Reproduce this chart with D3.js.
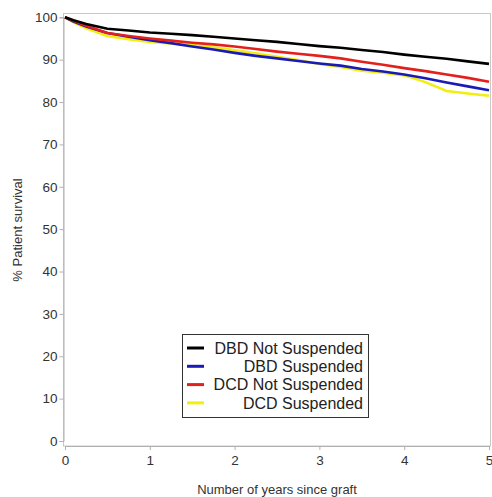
<!DOCTYPE html>
<html>
<head>
<meta charset="utf-8">
<script src="https://cdn.jsdelivr.net/npm/d3@7"></script>
<style>
  body { margin: 0; background: #fff; }
  text { font-family: "Liberation Sans", Arial, sans-serif; }
</style>
</head>
<body>
<script>
// Chart size
const width = 492, height = 497;

// Data (years since graft, % survival)
const years = [0, 0.1, 0.25, 0.5, 0.75, 1, 1.25, 1.5, 1.75, 2, 2.25, 2.5, 2.75, 3, 3.25, 3.5, 3.75, 4, 4.25, 4.5, 4.75, 5];
const dbdNotSusp = [100, 99.3, 98.4, 97.3, 96.9, 96.4, 96.1, 95.8, 95.4, 95.0, 94.6, 94.2, 93.7, 93.2, 92.8, 92.3, 91.8, 91.2, 90.7, 90.2, 89.6, 89.0];
const dbdSusp    = [100, 99.0, 97.8, 96.3, 95.4, 94.6, 93.9, 93.1, 92.4, 91.6, 90.9, 90.3, 89.7, 89.1, 88.6, 87.8, 87.2, 86.5, 85.6, 84.6, 83.7, 82.8];
const dcdNotSusp = [100, 99.2, 98.0, 96.3, 95.6, 95.0, 94.5, 94.0, 93.6, 93.1, 92.5, 91.9, 91.4, 90.9, 90.3, 89.5, 88.8, 88.0, 87.3, 86.5, 85.7, 84.8];
const dcdSusp    = [100, 98.8, 97.4, 95.6, 94.8, 94.2, 93.8, 93.5, 92.9, 92.2, 91.5, 90.7, 89.9, 89.0, 88.3, 87.4, 86.9, 86.3, 84.7, 82.6, 82.0, 81.5];

const seriesNames = ["DBD Not Suspended", "DBD Suspended", "DCD Not Suspended", "DCD Suspended"];
const seriesColors = ["#000000", "#1a1ab8", "#e3201b", "#f2ee10"];
const seriesValues = [dbdNotSusp, dbdSusp, dcdNotSusp, dcdSusp];

const xTicks = [0, 1, 2, 3, 4, 5];
const yTicks = [0, 10, 20, 30, 40, 50, 60, 70, 80, 90, 100];

// Scales
const x = d3.scaleLinear().domain([0, 5]).range([65, 489]);
const y = d3.scaleLinear().domain([0, 100]).range([441, 17.3]);

const svg = d3.select("body")
              .append("svg")
              .attr("width", width)
              .attr("height", height);

// Plot frame
svg.append("rect")
   .attr("x", 63.5).attr("y", 13.5)
   .attr("width", 427).attr("height", 432.5)
   .attr("fill", "none")
   .attr("stroke", "#c8c8c8");

// Axes
const yAxis = svg.append("g")
   .attr("transform", "translate(63.5,0)")
   .call(d3.axisLeft(y).tickValues(yTicks).tickFormat(d3.format("d")).tickSize(4).tickPadding(2));
const xAxis = svg.append("g")
   .attr("transform", "translate(0,446)")
   .call(d3.axisBottom(x).tickValues(xTicks).tickFormat(d3.format("d")).tickSize(4).tickPadding(5));

[xAxis, yAxis].forEach(g => {
  g.select(".domain").attr("stroke", "#b0b0b0");
  g.selectAll(".tick line").attr("stroke", "#b0b0b0");
  g.selectAll(".tick text")
   .attr("fill", "#333")
   .style("font-size", "13.5px")
   .style("font-family", "'Liberation Sans', Arial, sans-serif");
});

// Axis titles
svg.append("text")
   .attr("x", 277).attr("y", 494)
   .attr("text-anchor", "middle")
   .attr("fill", "#333")
   .style("font-size", "13px")
   .text("Number of years since graft");

svg.append("text")
   .attr("transform", "translate(22,230) rotate(-90)")
   .attr("text-anchor", "middle")
   .attr("fill", "#333")
   .style("font-size", "13px")
   .text("% Patient survival");

// Survival curves
const line = d3.line()
               .x((d, i) => x(years[i]))
               .y(d => y(d));

const drawOrder = [3, 1, 2, 0];
drawOrder.forEach(k => {
  svg.append("path")
     .datum(seriesValues[k])
     .attr("d", line)
     .attr("fill", "none")
     .attr("stroke", seriesColors[k])
     .attr("stroke-width", 2.6);
});

// Legend
const legend = svg.append("g");
legend.append("rect")
      .attr("x", 182.5).attr("y", 334.5)
      .attr("width", 186).attr("height", 83)
      .attr("fill", "#fff")
      .attr("stroke", "#333")
      .attr("stroke-width", 1);

seriesNames.forEach((name, i) => {
  const cy = 348 + i * 18.3;
  legend.append("line")
        .attr("x1", 187).attr("x2", 204)
        .attr("y1", cy).attr("y2", cy)
        .attr("stroke", seriesColors[i])
        .attr("stroke-width", 3);
  legend.append("text")
        .attr("x", 363).attr("y", cy)
        .attr("dy", "0.36em")
        .attr("text-anchor", "end")
        .attr("fill", "#222")
        .style("font-size", "16px")
        .text(name);
});
</script>
</body>
</html>
